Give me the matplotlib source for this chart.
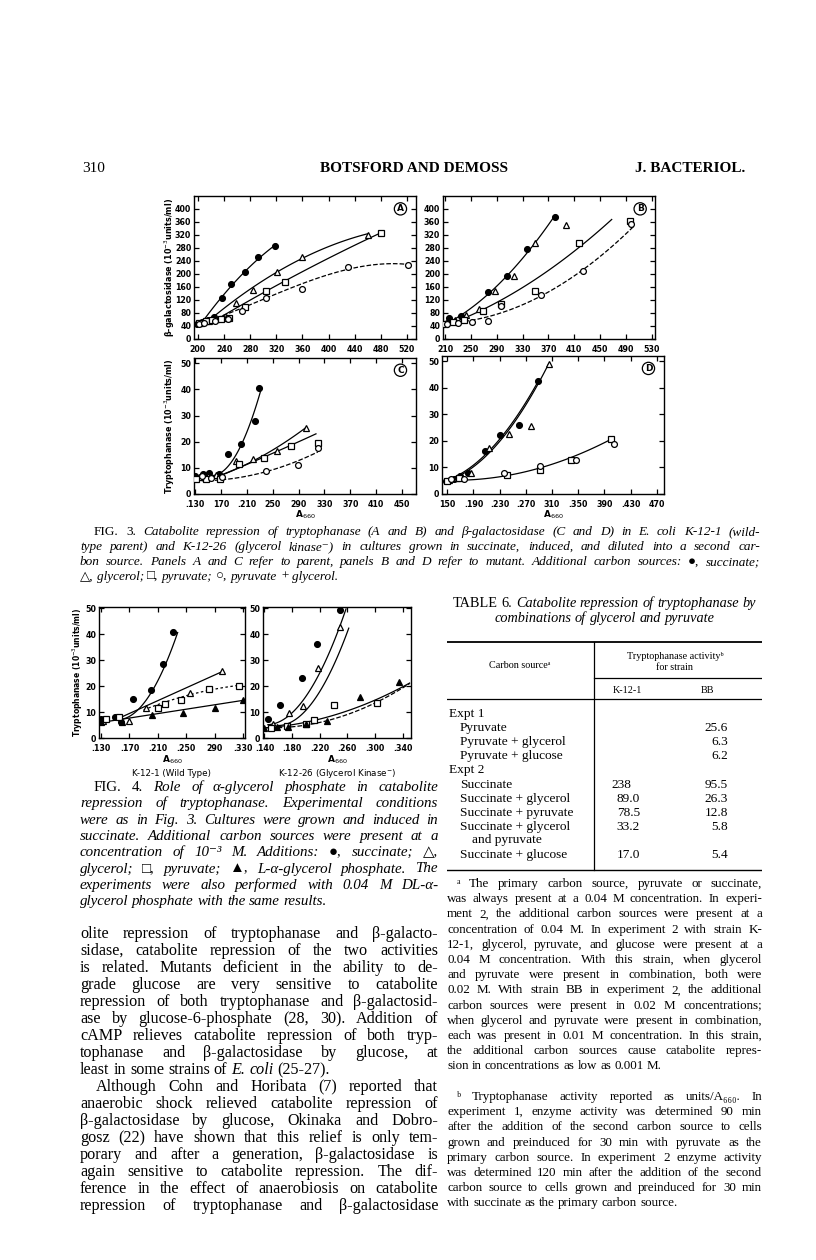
import numpy as np
import matplotlib.pyplot as plt

# ---------------- data (x = A660 x 1000) ----------------
# Fig. 3 A: beta-galactosidase, parent
a_succ_x = [199, 207, 215, 224, 237, 251, 272, 292, 318]
a_succ_y = [45, 52, 58, 68, 125, 170, 207, 252, 286]
a_gly_x = [205, 217, 228, 240, 259, 285, 321, 359, 460]
a_gly_y = [50, 55, 62, 66, 112, 151, 207, 253, 320]
a_pyr_x = [202, 212, 222, 236, 248, 272, 304, 334, 481]
a_pyr_y = [48, 55, 57, 60, 64, 99, 148, 176, 327]
a_pg_x = [201, 210, 226, 246, 267, 304, 360, 430, 522]
a_pg_y = [46, 50, 55, 60, 86, 127, 153, 220, 228]

# Fig. 3 B: beta-galactosidase, mutant
b_succ_x = [208, 217, 235, 276, 306, 337, 380]
b_succ_y = [45, 64, 71, 146, 195, 276, 376]
b_gly_x = [212, 225, 242, 263, 287, 317, 349, 397]
b_gly_y = [48, 58, 73, 92, 149, 195, 294, 351]
b_pyr_x = [210, 222, 240, 269, 296, 350, 417, 497]
b_pyr_y = [45, 52, 58, 87, 108, 147, 294, 363]
b_pg_x = [213, 230, 252, 276, 297, 359, 424, 498]
b_pg_y = [45, 48, 52, 55, 100, 134, 209, 353]

# Fig. 3 C: tryptophanase, parent
c_succ_x = [130, 142, 151, 166, 181, 201, 222, 229]
c_succ_y = [7, 7.5, 8, 7.8, 15.2, 19, 27.8, 40.6]
c_gly_x = [135, 150, 162, 193, 220, 257, 302]
c_gly_y = [6.5, 6.8, 7.2, 12.6, 13.2, 16.5, 25.4]
c_pyr_x = [131, 147, 168, 198, 237, 278, 320]
c_pyr_y = [5.8, 5.8, 5.8, 11.3, 13.8, 18.4, 19.5]
c_pg_x = [140, 155, 172, 239, 289, 320]
c_pg_y = [6.8, 6.2, 6.5, 8.9, 11, 17.4]

# Fig. 3 D: tryptophanase, mutant
d_succ_x = [148, 160, 170, 182, 208, 231, 260, 289]
d_succ_y = [4.8, 5.5, 6.8, 7.8, 16.1, 22.2, 26, 42.5]
d_gly_x = [152, 165, 187, 214, 244, 278, 305]
d_gly_y = [5.2, 6.2, 8.1, 17.4, 22.7, 25.6, 48.8]
d_pyr_x = [150, 168, 241, 291, 339, 400]
d_pyr_y = [5, 6, 7.1, 8.9, 12.8, 20.8]
d_pg_x = [156, 175, 236, 291, 347, 405]
d_pg_y = [5.5, 5.6, 8.1, 10.7, 12.8, 19]

# hand-drawn curves of Fig. 3
a_fits = [([205, 240, 270, 320], [50, 130, 210, 290], 2, '-'),
          ([215, 259, 321, 359, 460], [60, 112, 207, 253, 322], 2, '-'),
          ([228, 304, 400, 481], [60, 145, 250, 327], 2, '-'),
          ([200, 300, 430, 470, 520], [45, 122, 215, 228, 230], 3, '--')]
b_fits = [([208, 250, 290, 340, 380], [45, 90, 160, 280, 376], 2, '-'),
          ([210, 300, 400, 468], [45, 110, 270, 361], 2, '-'),
          ([230, 300, 360, 424, 503], [50, 85, 135, 210, 350], 2, '--')]
c_fits = [([150, 190, 215, 232], [7, 15, 25, 41], 2, '-'),
          ([168, 230, 302], [7, 14, 25.5], 2, '-'),
          ([168, 240, 317], [7, 14.5, 23], 2, '-'),
          ([140, 240, 290, 320], [5, 9, 12, 16.5], 2, '--')]
d_fits = [([148, 200, 250, 290], [5, 13, 27, 43], 2, '-'),
          ([150, 200, 260, 305], [5, 12, 30, 49], 2, '-'),
          ([150, 250, 340, 400], [5, 8, 13, 21], 2, '-')]

# Fig. 4 left: K-12-1 (wild type)
w_succ_x = [130, 150, 158, 175, 200, 218, 232]
w_succ_y = [7.5, 8, 6, 15, 18.5, 28.5, 41]
w_gly_x = [133, 170, 193, 255, 300]
w_gly_y = [6.5, 6.5, 11.5, 17.5, 26]
w_pyr_x = [137, 155, 210, 220, 243, 282, 325]
w_pyr_y = [7.5, 8, 11.5, 13, 14.5, 19, 20]
w_lgp_x = [130, 160, 202, 245, 290, 330]
w_lgp_y = [6, 6, 9, 9.5, 11.5, 14.5]
w_fits = [([150, 190, 215, 238], [7, 14, 24, 41], 2, '-'),
          ([150, 300], [7, 25.5], 1, '-'),
          ([190, 250, 285, 325], [11, 15.5, 19.5, 20], 2, (0, (2, 2))),
          ([130, 330], [6, 14.5], 1, '-')]

# Fig. 4 right: K-12-26 (glycerol kinase-)
g_succ_x = [145, 162, 194, 216, 250]
g_succ_y = [7.5, 12.6, 23, 36.2, 49.5]
g_gly_x = [152, 176, 196, 218, 249]
g_gly_y = [5.5, 9.5, 12.2, 26.9, 42.9]
g_pyr_x = [150, 172, 200, 212, 240, 303]
g_pyr_y = [4, 4.5, 5.5, 6.9, 12.6, 13.3]
g_lgp_x = [140, 158, 174, 200, 231, 278, 335]
g_lgp_y = [4, 4.2, 4.4, 5.5, 6.6, 15.9, 21.5]
g_fits = [([145, 190, 230, 258], [5, 13, 30, 50], 2, '-'),
          ([160, 200, 235, 262], [5, 10, 26, 42], 2, '-'),
          ([140, 220, 300, 350], [4, 7, 15, 21], 2, '-'),
          ([140, 220, 300, 350], [4, 6, 13.5, 21], 2, '--')]

# Table 6
table_rows = ['Expt 1', 'Pyruvate', 'Pyruvate + glycerol', 'Pyruvate + glucose',
              'Expt 2', 'Succinate', 'Succinate + glycerol', 'Succinate + pyruvate',
              'Succinate + glycerol', 'and pyruvate', 'Succinate + glucose']
k12_vals = ['', '', '', '', '', '238', '89.0', '78.5', '33.2', '', '17.0']
bb_vals = ['', '25.6', '6.3', '6.2', '', '95.5', '26.3', '12.8', '5.8', '', '5.4']

# ---------------- page ----------------
W, H = 816, 1260
fig = plt.figure(figsize=(W / 100, H / 100), dpi=100)
renderer = fig.canvas.get_renderer()
SERIF = ['Liberation Serif', 'DejaVu Sans']
SANS = ['DejaVu Sans']


def rect(l, t, r, b):
    return [l / W, 1 - b / H, (r - l) / W, (b - t) / H]


def put(x, y, s, **kw):
    return fig.text(x / W, 1 - y / H, s, **kw)


def text_line(x0, x1, y, s, size, italic=False, align='justify'):
    # words prefixed with ~ use the other style (roman inside italic and back)
    arts, widths = [], []
    for w in s.split():
        it = italic
        if w.startswith('~'):
            w, it = w[1:], not italic
        t = put(0, y, w, fontsize=size, family=SERIF, va='baseline',
                style='italic' if it else 'normal')
        arts.append(t)
        widths.append(t.get_window_extent(renderer).width)
    gap = size * 100 / 72 * 0.25
    if align == 'justify' and len(arts) > 1:
        min_gap = size * 100 / 72 * 0.18
        free = x1 - x0 - min_gap * (len(arts) - 1)
        if sum(widths) > free:
            k = free / sum(widths)
            for t in arts:
                t.set_fontsize(size * k)
            widths = [w * k for w in widths]
        gap = (x1 - x0 - sum(widths)) / (len(arts) - 1)
    x = x0
    if align == 'center':
        x = (x0 + x1) / 2 - (sum(widths) + gap * (len(arts) - 1)) / 2
    for t, w in zip(arts, widths):
        t.set_x(x / W)
        x += w + gap


def paragraph(x0, x1, y0, dy, lines, size, italic=False, indent=0):
    for i, s in enumerate(lines):
        last = i == len(lines) - 1
        text_line(x0 + (indent if i == 0 else 0), x1, y0 + i * dy, s, size,
                  italic, 'left' if last else 'justify')


def draw_series(ax, sets):
    styles = [dict(marker='o', mfc='black', ms=4.2),
              dict(marker='^', mfc='white', ms=4.6),
              dict(marker='s', mfc='white', ms=4.0),
              dict(marker='o', mfc='white', ms=4.2),
              dict(marker='^', mfc='black', ms=4.6)]
    for (xs, ys), st in zip(sets, styles):
        if xs is None:
            continue
        ax.plot(xs, ys, ls='none', mec='black', mew=0.9, zorder=3, **st)


def draw_fits(ax, fits):
    for xs, ys, deg, ls in fits:
        coef = np.polyfit(xs, ys, deg)
        xx = np.linspace(min(xs), max(xs), 120)
        ax.plot(xx, np.polyval(coef, xx), color='black', lw=0.9, ls=ls, zorder=2)


def frame(ax, xlim, ylim, xticks, xlabels, yticks, ylabels, size=5.7):
    ax.set_xlim(*xlim)
    ax.set_ylim(*ylim)
    ax.set_xticks(xticks)
    ax.set_xticklabels(xlabels)
    ax.set_yticks(yticks)
    ax.set_yticklabels(ylabels)
    ax.tick_params(direction='in', length=3.5, width=0.9, top=True, right=True,
                   labelsize=size, pad=2)
    ax.tick_params(axis='x', pad=4)
    for lab in ax.get_xticklabels() + ax.get_yticklabels():
        lab.set_fontweight('bold')
        lab.set_family(SANS)
    for sp in ax.spines.values():
        sp.set_linewidth(1.0)


def letter(ax, s):
    ax.text(0.93, 0.91, s, transform=ax.transAxes, ha='center', va='center',
            fontsize=6.5, fontweight='bold', family=SANS,
            bbox=dict(boxstyle='circle,pad=0.18', fc='white', ec='black', lw=0.9))


# header
put(82, 172, '310', fontsize=11, family=SERIF, va='baseline')
put(414, 172, 'BOTSFORD AND DEMOSS', fontsize=11, family=SERIF, ha='center',
    va='baseline', fontweight='bold')
put(745, 172, 'J. BACTERIOL.', fontsize=11, family=SERIF, ha='right', va='baseline',
    fontweight='bold')

# ---- Fig. 3 ----
gal_ticks = list(range(0, 401, 40))
gal_labels = [str(v) for v in gal_ticks]
trp_ticks = list(range(0, 51, 10))
trp_labels = [str(v) for v in trp_ticks]

axA = fig.add_axes(rect(194, 196, 416, 339))
frame(axA, (194, 534), (0, 440), list(range(200, 521, 40)),
      [str(v) for v in range(200, 521, 40)], gal_ticks, gal_labels)
draw_fits(axA, a_fits)
draw_series(axA, [(a_succ_x, a_succ_y), (a_gly_x, a_gly_y), (a_pyr_x, a_pyr_y),
                  (a_pg_x, a_pg_y)])
letter(axA, 'A')

axB = fig.add_axes(rect(443, 196, 655, 339))
frame(axB, (207, 535), (0, 440), list(range(210, 531, 40)),
      [str(v) for v in range(210, 531, 40)], gal_ticks, gal_labels)
draw_fits(axB, b_fits)
draw_series(axB, [(b_succ_x, b_succ_y), (b_gly_x, b_gly_y), (b_pyr_x, b_pyr_y),
                  (b_pg_x, b_pg_y)])
letter(axB, 'B')

axC = fig.add_axes(rect(194, 358, 416, 494))
frame(axC, (128, 472), (0, 52), list(range(130, 451, 40)),
      ['.130', '170', '.210', '250', '290', '330', '370', '410', '450'],
      trp_ticks, trp_labels)
draw_fits(axC, c_fits)
draw_series(axC, [(c_succ_x, c_succ_y), (c_gly_x, c_gly_y), (c_pyr_x, c_pyr_y),
                  (c_pg_x, c_pg_y)])
letter(axC, 'C')

axD = fig.add_axes(rect(442, 356, 664, 494))
frame(axD, (142, 481), (0, 52), list(range(150, 471, 40)),
      ['150', '.190', '.230', '.270', '310', '.350', '390', '.430', '470'],
      trp_ticks, trp_labels)
draw_fits(axD, d_fits)
draw_series(axD, [(d_succ_x, d_succ_y), (d_gly_x, d_gly_y), (d_pyr_x, d_pyr_y),
                  (d_pg_x, d_pg_y)])
letter(axD, 'D')

put(170, 267, 'β-galactosidase (10$^{-3}$units/ml)', rotation=90, ha='center',
    va='center', fontsize=5.8, fontweight='bold', family=SANS)
put(170, 426, 'Tryptophanase (10$^{-3}$units/ml)', rotation=90, ha='center',
    va='center', fontsize=5.8, fontweight='bold', family=SANS)
put(305, 515, 'A$_{660}$', ha='center', va='center', fontsize=6.5,
    fontweight='bold', family=SANS)
put(553, 515, 'A$_{660}$', ha='center', va='center', fontsize=6.5,
    fontweight='bold', family=SANS)

fig3_caption = [
    '~FIG. ~3. Catabolite repression of tryptophanase (A and B) and β-galactosidase '
    '(C and D) in E. coli K-12-1 (wild-',
    'type parent) and K-12-26 (glycerol kinase⁻) in cultures grown in succinate, '
    'induced, and diluted into a second car-',
    'bon source. Panels A and C refer to parent, panels B and D refer to mutant. '
    'Additional carbon sources: ~●, succinate;',
    '~△, glycerol; ~□, pyruvate; ~○, pyruvate + glycerol.']
paragraph(80, 760, 535, 15, fig3_caption, 9.5, italic=True, indent=14)

# ---- Fig. 4 ----
axW = fig.add_axes(rect(99, 607, 245, 738))
frame(axW, (127, 333), (0, 50.5), list(range(130, 331, 40)),
      ['.130', '.170', '.210', '.250', '290', '.330'], trp_ticks, trp_labels)
draw_fits(axW, w_fits)
draw_series(axW, [(w_succ_x, w_succ_y), (w_gly_x, w_gly_y), (w_pyr_x, w_pyr_y),
                  (None, None), (w_lgp_x, w_lgp_y)])

axG = fig.add_axes(rect(263, 607, 411, 738))
frame(axG, (138, 352), (0, 50.5), list(range(140, 341, 40)),
      ['.140', '.180', '.220', '.260', '.300', '.340'], trp_ticks, trp_labels)
draw_fits(axG, g_fits)
draw_series(axG, [(g_succ_x, g_succ_y), (g_gly_x, g_gly_y), (g_pyr_x, g_pyr_y),
                  (None, None), (g_lgp_x, g_lgp_y)])

put(78, 672, 'Tryptophanase (10$^{-3}$units/ml)', rotation=90, ha='center',
    va='center', fontsize=5.5, fontweight='bold', family=SANS)
put(172, 760, 'A$_{660}$', ha='center', va='center', fontsize=6.5,
    fontweight='bold', family=SANS)
put(337, 760, 'A$_{660}$', ha='center', va='center', fontsize=6.5,
    fontweight='bold', family=SANS)
put(172, 773, 'K-12-1 (Wild Type)', ha='center', va='center', fontsize=6.3,
    family=SANS)
put(337, 773, 'K-12-26 (Glycerol Kinase$^{-}$)', ha='center', va='center',
    fontsize=6.3, family=SANS)

fig4_caption = [
    '~FIG. ~4. Role of α-glycerol phosphate in catabolite',
    'repression of tryptophanase. Experimental conditions',
    'were as in Fig. 3. Cultures were grown and induced in',
    'succinate. Additional carbon sources were present at a',
    'concentration of 10⁻³ M. Additions: ~●, succinate; ~△,',
    'glycerol; ~□, pyruvate; ~▲, L-α-glycerol phosphate. The',
    'experiments were also performed with 0.04 M DL-α-',
    'glycerol phosphate with the same results.']
paragraph(80, 438, 791, 16.3, fig4_caption, 10.8, italic=True, indent=14)

body = [
    'olite repression of tryptophanase and β-galacto-',
    'sidase, catabolite repression of the two activities',
    'is related. Mutants deficient in the ability to de-',
    'grade glucose are very sensitive to catabolite',
    'repression of both tryptophanase and β-galactosid-',
    'ase by glucose-6-phosphate (28, 30). Addition of',
    'cAMP relieves catabolite repression of both tryp-',
    'tophanase and β-galactosidase by glucose, at',
    'least in some strains of ~E. ~coli (25-27).']
body2 = [
    'Although Cohn and Horibata (7) reported that',
    'anaerobic shock relieved catabolite repression of',
    'β-galactosidase by glucose, Okinaka and Dobro-',
    'gosz (22) have shown that this relief is only tem-',
    'porary and after a generation, β-galactosidase is',
    'again sensitive to catabolite repression. The dif-',
    'ference in the effect of anaerobiosis on catabolite',
    'repression of tryptophanase and β-galactosidase']
paragraph(80, 438, 938, 17, body, 11.6)
for i, s in enumerate(body2):
    text_line(80 + (16 if i == 0 else 0), 438, 938 + (9 + i) * 17, s, 11.6)

# ---- Table 6 ----
text_line(447, 762, 607, '~TABLE ~6. Catabolite repression of tryptophanase by', 10.3,
          italic=True, align='center')
text_line(447, 762, 622, 'combinations of glycerol and pyruvate', 10.3,
          italic=True, align='center')
rules = fig.add_axes(rect(447, 600, 762, 900))
rules.set_xlim(447, 762)
rules.set_ylim(900, 600)
rules.axis('off')
rules.plot([447, 762], [642, 642], color='black', lw=1.3)
rules.plot([594, 762], [678, 678], color='black', lw=0.9)
rules.plot([447, 762], [699, 699], color='black', lw=0.9)
rules.plot([594, 594], [642, 870], color='black', lw=0.9)
rules.plot([447, 762], [870, 870], color='black', lw=1.0)
put(520, 668, 'Carbon sourceᵃ', ha='center', va='baseline', fontsize=7.3, family=SERIF)
put(675, 659, 'Tryptophanase activityᵇ', ha='center', va='baseline', fontsize=7.3,
    family=SERIF)
put(675, 670, 'for strain', ha='center', va='baseline', fontsize=7.3, family=SERIF)
put(627, 693, 'K-12-1', ha='center', va='baseline', fontsize=7.3, family=SERIF)
put(707, 693, 'BB', ha='center', va='baseline', fontsize=7.3, family=SERIF)

row_y = [717, 731, 745, 759, 773, 788, 802, 816, 830, 843, 858]
for name, k, b, y in zip(table_rows, k12_vals, bb_vals, row_y):
    if name.startswith('Expt'):
        x = 449
    elif name.startswith('and'):
        x = 472
    else:
        x = 460
    put(x, y, name, fontsize=9.6, family=SERIF, va='baseline')
    if k:
        put(640 if '.' in k else 631, y, k, fontsize=9.6, family=SERIF,
            va='baseline', ha='right')
    if b:
        put(728, y, b, fontsize=9.6, family=SERIF, va='baseline', ha='right')

foot_a = [
    'ᵃ The primary carbon source, pyruvate or succinate,',
    'was always present at a 0.04 M concentration. In experi-',
    'ment 2, the additional carbon sources were present at a',
    'concentration of 0.04 M. In experiment 2 with strain K-',
    '12-1, glycerol, pyruvate, and glucose were present at a',
    '0.04 M concentration. With this strain, when glycerol',
    'and pyruvate were present in combination, both were',
    '0.02 M. With strain BB in experiment 2, the additional',
    'carbon sources were present in 0.02 M concentrations;',
    'when glycerol and pyruvate were present in combination,',
    'each was present in 0.01 M concentration. In this strain,',
    'the additional carbon sources cause catabolite repres-',
    'sion in concentrations as low as 0.001 M.']
foot_b = [
    'ᵇ Tryptophanase activity reported as units/A₆₆₀. In',
    'experiment 1, enzyme activity was determined 90 min',
    'after the addition of the second carbon source to cells',
    'grown and preinduced for 30 min with pyruvate as the',
    'primary carbon source. In experiment 2 enzyme activity',
    'was determined 120 min after the addition of the second',
    'carbon source to cells grown and preinduced for 30 min',
    'with succinate as the primary carbon source.']
paragraph(447, 762, 887, 15.2, foot_a, 9.4, indent=10)
paragraph(447, 762, 1100, 15.2, foot_b, 9.4, indent=10)

fig.savefig('out.png', dpi=100, facecolor='white')
